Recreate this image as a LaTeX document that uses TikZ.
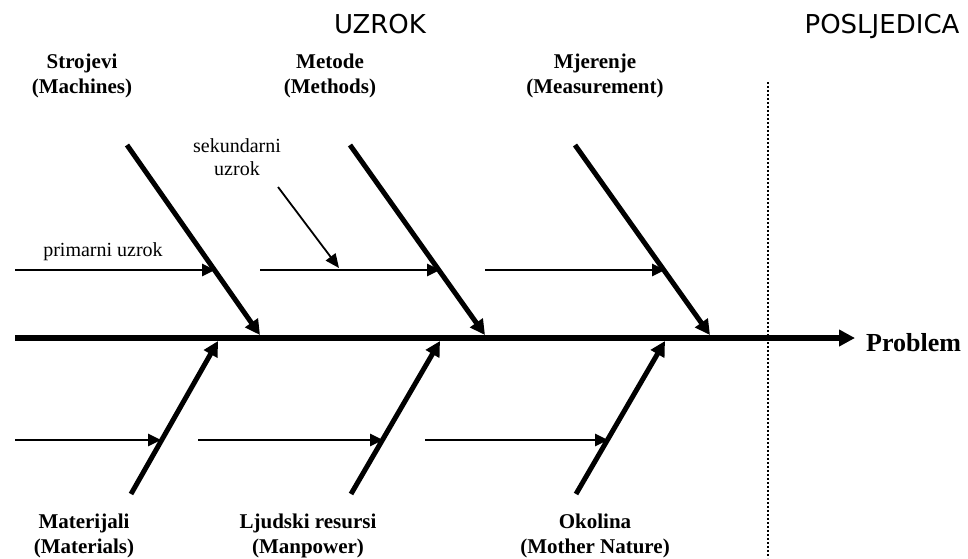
\documentclass[tikz,border=0pt]{standalone}
\usepackage{fontspec}
\setmainfont{Liberation Serif}
\newfontfamily\headfont{DejaVu Sans}
\usetikzlibrary{arrows.meta}

\tikzset{
  bone/.style={line width=5pt, -{Triangle[length=15pt,width=15pt]}},
  spine/.style={line width=5.5pt, -{Triangle[length=16pt,width=16pt]}},
  cause/.style={line width=2.8pt, -{Triangle[length=13pt,width=12pt]}},
  subcause/.style={line width=1.8pt, -{Triangle[length=14pt,width=12pt]}},
  divider/.style={line width=1.6pt, dash pattern=on 1.6pt off 2.4pt},
  catlabel/.style={font=\bfseries\fontsize{21}{25}\selectfont, align=center, anchor=base, inner sep=0pt},
  note/.style={font=\fontsize{20}{23}\selectfont, align=center, anchor=base, inner sep=0pt},
  head/.style={font=\headfont\fontsize{26}{30}\selectfont, anchor=base, inner sep=0pt}
}

\begin{document}
\begin{tikzpicture}[x=1pt,y=-1pt]
\useasboundingbox (0,0) rectangle (968,558);

% headings
\node[head] (cause) at (380,33) {UZROK};
\node[head] (effect) at (882,33) {POSLJEDICA};

% divider between cause and effect
\coordinate (divtop) at (768,82);
\coordinate (divbot) at (768,558);
\draw[divider] (divtop) -- (divbot);

% spine
\coordinate (spinestart) at (15,338);
\coordinate (spineend) at (855,338);
\draw[spine] (spinestart) -- (spineend);
\node[font=\bfseries\fontsize{26}{30}\selectfont, anchor=base west, inner sep=0pt] (problem) at (866,351) {Problem};

% upper bones
\coordinate (u1a) at (127,145); \coordinate (u1b) at (260,335);
\coordinate (u2a) at (350,145); \coordinate (u2b) at (485,335);
\coordinate (u3a) at (575,145); \coordinate (u3b) at (710,335);
\draw[bone] (u1a) -- (u1b);
\draw[bone] (u2a) -- (u2b);
\draw[bone] (u3a) -- (u3b);

% lower bones
\coordinate (l1a) at (131,494); \coordinate (l1b) at (218,341);
\coordinate (l2a) at (351,494); \coordinate (l2b) at (440,341);
\coordinate (l3a) at (576,494); \coordinate (l3b) at (665,341);
\draw[bone] (l1a) -- (l1b);
\draw[bone] (l2a) -- (l2b);
\draw[bone] (l3a) -- (l3b);

% primary causes on the upper bones
\coordinate (p1a) at (15,270);  \coordinate (p1b) at (215,270);
\coordinate (p2a) at (260,270); \coordinate (p2b) at (440,270);
\coordinate (p3a) at (485,270); \coordinate (p3b) at (665,270);
\draw[cause] (p1a) -- (p1b);
\draw[cause] (p2a) -- (p2b);
\draw[cause] (p3a) -- (p3b);

% primary causes on the lower bones
\coordinate (q1a) at (15,440);  \coordinate (q1b) at (161,440);
\coordinate (q2a) at (198,440); \coordinate (q2b) at (383,440);
\coordinate (q3a) at (425,440); \coordinate (q3b) at (608,440);
\draw[cause] (q1a) -- (q1b);
\draw[cause] (q2a) -- (q2b);
\draw[cause] (q3a) -- (q3b);

% secondary cause
\coordinate (s1a) at (278,187); \coordinate (s1b) at (339,268);
\draw[subcause] (s1a) -- (s1b);

% notes (base anchor sits on the last line)
\node[note] (primary) at (103,256) {primarni uzrok};
\node[note] (secondary) at (237,175) {sekundarni\\uzrok};

% category labels (base anchor sits on the last line)
\node[catlabel] (machines) at (82,93) {Strojevi\\(Machines)};
\node[catlabel] (methods) at (330,93) {Metode\\(Methods)};
\node[catlabel] (measure) at (595,93) {Mjerenje\\(Measurement)};
\node[catlabel] (materials) at (84,553) {Materijali\\(Materials)};
\node[catlabel] (manpower) at (308,553) {Ljudski resursi\\(Manpower)};
\node[catlabel] (nature) at (595,553) {Okolina\\(Mother Nature)};
\end{tikzpicture}
\end{document}
